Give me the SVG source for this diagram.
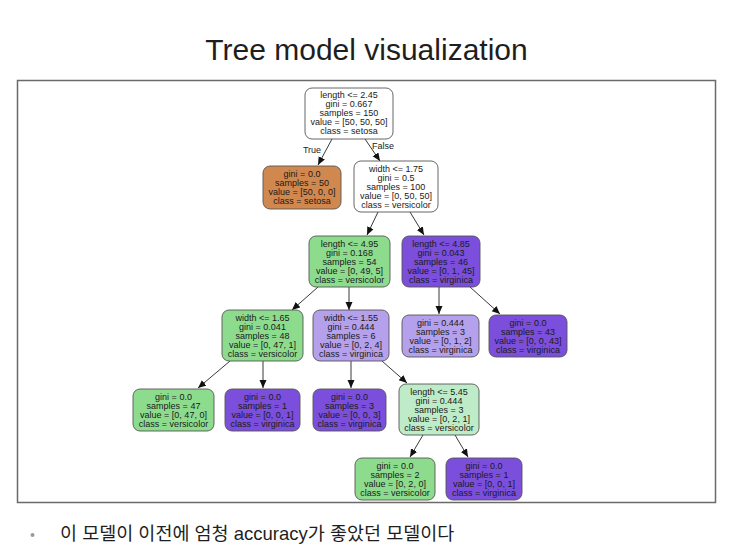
<svg xmlns="http://www.w3.org/2000/svg" width="737" height="556" viewBox="0 0 737 556">
<style>
.n{stroke:#555;stroke-width:0.9}
.t{font-family:"Liberation Sans",Arial,sans-serif;font-size:9px;fill:#1a1a1a;text-anchor:middle}
.e{stroke:#222;stroke-width:0.9;fill:none;marker-end:url(#ah)}
.g{fill:#8ddc8e}.p{fill:#7b4fdb}.lp{fill:#b5a1eb}.lg{fill:#bfecc8}.w{fill:#ffffff}.o{fill:#d1884f}
</style>
<defs>
<marker id="ah" markerUnits="userSpaceOnUse" markerWidth="9" markerHeight="8" refX="8" refY="3.5" orient="auto">
<path d="M0,0 L8,3.5 L0,7 Z" fill="#111"/>
</marker>
</defs>
<rect width="737" height="556" fill="#ffffff"/>
<text x="366.5" y="60" font-family="Liberation Sans,Arial,sans-serif" font-size="30" fill="#1e1e1e" text-anchor="middle">Tree model visualization</text>
<rect x="17.5" y="80.5" width="698" height="422" fill="#fff" stroke="#6a6a6a" stroke-width="1.5"/>

<g id="connectors">
<line class="e" x1="332" y1="139" x2="318" y2="165"/>
<line class="e" x1="365" y1="139" x2="380" y2="161"/>
<line class="e" x1="378" y1="212" x2="367" y2="235"/>
<line class="e" x1="410" y1="212" x2="424" y2="235"/>
<line class="e" x1="318" y1="287" x2="292" y2="310"/>
<line class="e" x1="349" y1="287" x2="349" y2="310"/>
<line class="e" x1="439" y1="287" x2="439" y2="314"/>
<line class="e" x1="470" y1="287" x2="500" y2="314"/>
<line class="e" x1="230" y1="361" x2="198" y2="388"/>
<line class="e" x1="263" y1="361" x2="263" y2="388"/>
<line class="e" x1="351" y1="361" x2="351" y2="388"/>
<line class="e" x1="382" y1="361" x2="407" y2="383"/>
<line class="e" x1="423" y1="435" x2="410" y2="457"/>
<line class="e" x1="455" y1="435" x2="468" y2="457"/>
<text class="t" x="312" y="153">True</text>
<text class="t" x="383" y="149">False</text>
</g>

<g id="root">
<rect class="n w" x="305" y="88" width="88" height="51" rx="7"/>
<text class="t" x="349" y="98">length &lt;= 2.45</text>
<text class="t" x="349" y="107">gini = 0.667</text>
<text class="t" x="349" y="116">samples = 150</text>
<text class="t" x="349" y="125">value = [50, 50, 50]</text>
<text class="t" x="349" y="134">class = setosa</text>
</g>
<g id="setosa">
<rect class="n o" x="263" y="166" width="78" height="43" rx="7"/>
<text class="t" x="302" y="177">gini = 0.0</text>
<text class="t" x="302" y="186">samples = 50</text>
<text class="t" x="302" y="195">value = [50, 0, 0]</text>
<text class="t" x="302" y="204">class = setosa</text>
</g>
<g id="w175">
<rect class="n w" x="354" y="161" width="84" height="51" rx="7"/>
<text class="t" x="396" y="172">width &lt;= 1.75</text>
<text class="t" x="396" y="181">gini = 0.5</text>
<text class="t" x="396" y="190">samples = 100</text>
<text class="t" x="396" y="199">value = [0, 50, 50]</text>
<text class="t" x="396" y="208">class = versicolor</text>
</g>
<g id="l495">
<rect class="n g" x="309" y="236" width="81" height="51" rx="7"/>
<text class="t" x="349.5" y="247">length &lt;= 4.95</text>
<text class="t" x="349.5" y="256">gini = 0.168</text>
<text class="t" x="349.5" y="265">samples = 54</text>
<text class="t" x="349.5" y="274">value = [0, 49, 5]</text>
<text class="t" x="349.5" y="283">class = versicolor</text>
</g>
<g id="l485">
<rect class="n p" x="402" y="236" width="78" height="51" rx="7"/>
<text class="t" x="441" y="247">length &lt;= 4.85</text>
<text class="t" x="441" y="256">gini = 0.043</text>
<text class="t" x="441" y="265">samples = 46</text>
<text class="t" x="441" y="274">value = [0, 1, 45]</text>
<text class="t" x="441" y="283">class = virginica</text>
</g>
<g id="w165">
<rect class="n g" x="222" y="310" width="81" height="51" rx="7"/>
<text class="t" x="262.5" y="321">width &lt;= 1.65</text>
<text class="t" x="262.5" y="330">gini = 0.041</text>
<text class="t" x="262.5" y="339">samples = 48</text>
<text class="t" x="262.5" y="348">value = [0, 47, 1]</text>
<text class="t" x="262.5" y="357">class = versicolor</text>
</g>
<g id="w155">
<rect class="n lp" x="313" y="310" width="76" height="51" rx="7"/>
<text class="t" x="351" y="321">width &lt;= 1.55</text>
<text class="t" x="351" y="330">gini = 0.444</text>
<text class="t" x="351" y="339">samples = 6</text>
<text class="t" x="351" y="348">value = [0, 2, 4]</text>
<text class="t" x="351" y="357">class = virginica</text>
</g>
<g id="leaf444">
<rect class="n lp" x="402" y="315" width="77" height="42" rx="7"/>
<text class="t" x="440.5" y="326">gini = 0.444</text>
<text class="t" x="440.5" y="335">samples = 3</text>
<text class="t" x="440.5" y="344">value = [0, 1, 2]</text>
<text class="t" x="440.5" y="353">class = virginica</text>
</g>
<g id="leaf43">
<rect class="n p" x="489" y="315" width="78" height="42" rx="7"/>
<text class="t" x="528" y="326">gini = 0.0</text>
<text class="t" x="528" y="335">samples = 43</text>
<text class="t" x="528" y="344">value = [0, 0, 43]</text>
<text class="t" x="528" y="353">class = virginica</text>
</g>
<g id="leaf47">
<rect class="n g" x="133" y="389" width="81" height="42" rx="7"/>
<text class="t" x="173.5" y="400">gini = 0.0</text>
<text class="t" x="173.5" y="409">samples = 47</text>
<text class="t" x="173.5" y="418">value = [0, 47, 0]</text>
<text class="t" x="173.5" y="427">class = versicolor</text>
</g>
<g id="leaf1a">
<rect class="n p" x="225" y="389" width="75" height="42" rx="7"/>
<text class="t" x="262.5" y="400">gini = 0.0</text>
<text class="t" x="262.5" y="409">samples = 1</text>
<text class="t" x="262.5" y="418">value = [0, 0, 1]</text>
<text class="t" x="262.5" y="427">class = virginica</text>
</g>
<g id="leaf3">
<rect class="n p" x="313" y="389" width="73" height="42" rx="7"/>
<text class="t" x="349.5" y="400">gini = 0.0</text>
<text class="t" x="349.5" y="409">samples = 3</text>
<text class="t" x="349.5" y="418">value = [0, 0, 3]</text>
<text class="t" x="349.5" y="427">class = virginica</text>
</g>
<g id="l545">
<rect class="n lg" x="399" y="384" width="80" height="51" rx="7"/>
<text class="t" x="439" y="395">length &lt;= 5.45</text>
<text class="t" x="439" y="404">gini = 0.444</text>
<text class="t" x="439" y="413">samples = 3</text>
<text class="t" x="439" y="422">value = [0, 2, 1]</text>
<text class="t" x="439" y="431">class = versicolor</text>
</g>
<g id="leaf2">
<rect class="n g" x="355" y="458" width="80" height="42" rx="7"/>
<text class="t" x="395" y="469">gini = 0.0</text>
<text class="t" x="395" y="478">samples = 2</text>
<text class="t" x="395" y="487">value = [0, 2, 0]</text>
<text class="t" x="395" y="496">class = versicolor</text>
</g>
<g id="leaf1b">
<rect class="n p" x="446" y="458" width="76" height="42" rx="7"/>
<text class="t" x="484" y="469">gini = 0.0</text>
<text class="t" x="484" y="478">samples = 1</text>
<text class="t" x="484" y="487">value = [0, 0, 1]</text>
<text class="t" x="484" y="496">class = virginica</text>
</g>

<circle cx="32.5" cy="535" r="2" fill="#9a9a9a"/>
<text x="60" y="540" font-family="Liberation Sans,Noto Sans CJK KR,sans-serif" font-size="18.5" fill="#1e1e1e">이 모델이 이전에 엄청 accuracy가 좋았던 모델이다</text>
</svg>
